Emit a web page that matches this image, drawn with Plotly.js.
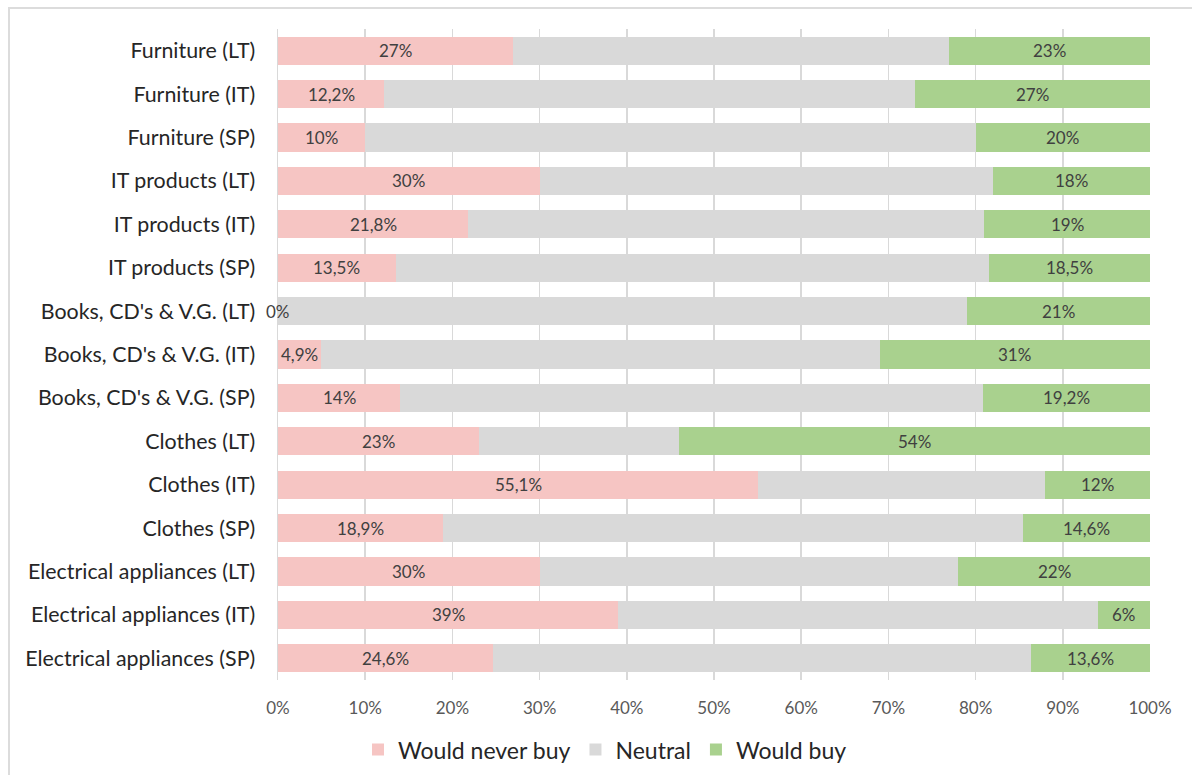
<!DOCTYPE html>
<html>
<head>
<meta charset="utf-8">
<script src="https://cdn.plot.ly/plotly-3.0.1.min.js"></script>
<style>
  html, body { margin: 0; padding: 0; background: #ffffff; }
  #wrap { position: relative; width: 1192px; height: 775px; overflow: hidden; }
  #chart { position: absolute; left: 0; top: 0; width: 1192px; height: 775px; }
  #frame { position: absolute; left: 8px; top: 7px; width: 1200px; height: 800px;
           border-left: 2px solid #dcdcdc; border-top: 2px solid #dcdcdc; pointer-events: none; }
</style>
</head>
<body>
<div id="wrap">
  <div id="chart"></div>
  <div id="frame"></div>
</div>
<script>
// Product categories by country, listed top to bottom
const categories = [
  "Furniture (LT)", "Furniture (IT)", "Furniture (SP)",
  "IT products (LT)", "IT products (IT)", "IT products (SP)",
  "Books, CD's & V.G. (LT)", "Books, CD's & V.G. (IT)", "Books, CD's & V.G. (SP)",
  "Clothes (LT)", "Clothes (IT)", "Clothes (SP)",
  "Electrical appliances (LT)", "Electrical appliances (IT)", "Electrical appliances (SP)"
];

// Share of respondents (%)
const neverBuy = [27, 12.2, 10, 30, 21.8, 13.5, 0, 4.9, 14, 23, 55.1, 18.9, 30, 39, 24.6];
const neutral  = [50, 60.8, 70, 52, 59.2, 68, 79, 64.1, 66.8, 23, 32.9, 66.5, 48, 55, 61.8];
const wouldBuy = [23, 27, 20, 18, 19, 18.5, 21, 31, 19.2, 54, 12, 14.6, 22, 6, 13.6];

const seriesNames = ["Would never buy", "Neutral", "Would buy"];
const tickVals = [0, 10, 20, 30, 40, 50, 60, 70, 80, 90, 100];
const tickText = ["0%", "10%", "20%", "30%", "40%", "50%", "60%", "70%", "80%", "90%", "100%"];

const colors = ["#F6C5C3", "#D9D9D9", "#A9D18E"];
const FONT = "Lato, 'Open Sans', sans-serif";

function pct(v) { return String(v).replace(".", ",") + "%"; }

const traces = [neverBuy, neutral, wouldBuy].map((vals, i) => ({
  type: "bar",
  orientation: "h",
  name: seriesNames[i],
  y: categories,
  x: vals,
  marker: { color: colors[i], line: { width: 0 } },
  hoverinfo: "skip"
}));

// Value labels for the "never buy" and "would buy" segments, centred in each segment
const annotations = [];
categories.forEach((c, k) => {
  annotations.push({
    x: neverBuy[k] / 2, y: c, xref: "x", yref: "y",
    text: pct(neverBuy[k]), showarrow: false,
    font: { family: FONT, size: 17, color: "#404040" }
  });
  annotations.push({
    x: neverBuy[k] + neutral[k] + wouldBuy[k] / 2, y: c, xref: "x", yref: "y",
    text: pct(wouldBuy[k]), showarrow: false,
    font: { family: FONT, size: 17, color: "#404040" }
  });
});

const layout = {
  width: 1192,
  height: 775,
  margin: { l: 278, r: 42, t: 29, b: 95, autoexpand: false },
  paper_bgcolor: "#ffffff",
  plot_bgcolor: "#ffffff",
  barmode: "stack",
  bargap: 0.35,
  showlegend: true,
  font: { family: FONT, color: "#262626" },
  xaxis: {
    range: [0, 100],
    tickvals: tickVals,
    ticktext: tickText,
    tickangle: 0,
    showgrid: true,
    gridcolor: "#D9D9D9",
    gridwidth: 1.5,
    zeroline: false,
    showline: false,
    ticks: "",
    ticklabelstandoff: 16,
    tickfont: { family: FONT, size: 17, color: "#595959" },
    fixedrange: true
  },
  yaxis: {
    autorange: "reversed",
    type: "category",
    showgrid: false,
    zeroline: false,
    showline: true,
    linecolor: "#D9D9D9",
    linewidth: 1.5,
    ticks: "",
    ticklabelstandoff: 17,
    tickfont: { family: FONT, size: 21.4, color: "#262626" },
    fixedrange: true
  },
  legend: {
    orientation: "h",
    x: 0.375,
    xanchor: "center",
    y: -0.107,
    yanchor: "middle",
    traceorder: "normal",
    font: { family: FONT, size: 23, color: "#262626" },
    itemclick: false,
    itemdoubleclick: false
  },
  annotations: annotations
};

Plotly.newPlot("chart", traces, layout, { displayModeBar: false, staticPlot: true });
</script>
</body>
</html>
